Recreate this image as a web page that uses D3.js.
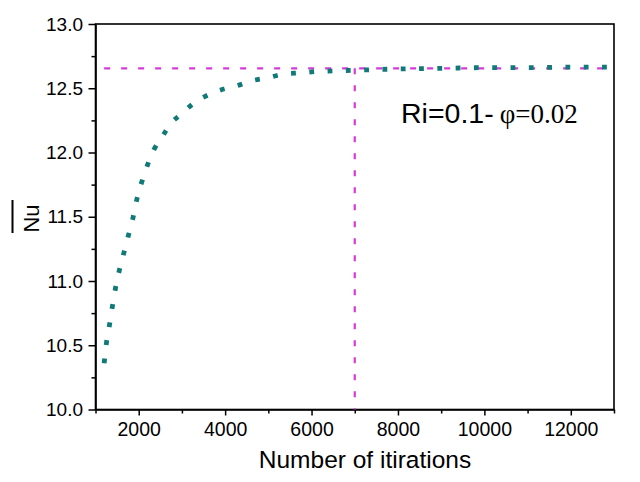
<!DOCTYPE html>
<html>
<head>
<meta charset="utf-8">
<script src="https://cdn.jsdelivr.net/npm/d3@7"></script>
<style>
  body { margin: 0; background: #fff; }
  text { font-family: "Liberation Sans", Arial, sans-serif; fill: #000; }
</style>
</head>
<body>
<div id="chart"></div>
<script>
// data
var iterations = [1200, 1250, 1320, 1390, 1460, 1550, 1650, 1750, 1860, 1960, 2080, 2200, 2350, 2540,
                  2730, 2990, 3260, 3620, 3930, 4280, 4640, 4970, 5350, 5740, 6110, 6500, 7000,
                  8000, 9000, 10000, 11000, 12000, 13000];
var nuValues   = [10.36, 10.51, 10.65, 10.80, 10.94, 11.08, 11.21, 11.34, 11.48, 11.64, 11.78, 11.90, 12.02, 12.12,
                  12.22, 12.30, 12.38, 12.45, 12.49, 12.52, 12.56, 12.58, 12.61, 12.62, 12.63, 12.635, 12.64,
                  12.65, 12.655, 12.66, 12.66, 12.665, 12.665];
var xMajorTicks = [2000, 4000, 6000, 8000, 10000, 12000];
var xMinorTicks = [1000, 3000, 5000, 7000, 9000, 11000, 13000];
var yMajorTicks = [10.0, 10.5, 11.0, 11.5, 12.0, 12.5, 13.0];
var yMinorTicks = [10.25, 10.75, 11.25, 11.75, 12.25, 12.75];
var refNu = 12.655;        // horizontal converged value
var refStart = 1200;       // where the horizontal guide starts
var refIter = 7000;        // vertical guide

var W = 640, H = 482;
var margin = {top: 24, right: 26, bottom: 72.5, left: 95.5},
    width = W - margin.left - margin.right,
    height = H - margin.top - margin.bottom;

var svg = d3.select("#chart")
  .append("svg")
    .attr("width", W)
    .attr("height", H)
  .append("g")
    .attr("transform", "translate(" + margin.left + "," + margin.top + ")");

var x = d3.scaleLinear().domain([1000, 13000]).range([0, width]);
var y = d3.scaleLinear().domain([10, 13]).range([height, 0]);

// minor ticks
svg.append("g")
  .attr("transform", "translate(0," + height + ")")
  .call(d3.axisBottom(x).tickValues(xMinorTicks).tickSize(4).tickSizeOuter(0).tickFormat(""))
  .call(function(g) { g.select(".domain").remove(); });
svg.append("g")
  .call(d3.axisLeft(y).tickValues(yMinorTicks).tickSize(4).tickSizeOuter(0).tickFormat(""))
  .call(function(g) { g.select(".domain").remove(); });

// major axes
var xAxis = svg.append("g")
  .attr("transform", "translate(0," + height + ")")
  .call(d3.axisBottom(x).tickValues(xMajorTicks).tickSize(6).tickPadding(7).tickSizeOuter(0).tickFormat(d3.format("d")));
xAxis.selectAll("text").attr("font-size", "19.5px");

var yAxis = svg.append("g")
  .call(d3.axisLeft(y).tickValues(yMajorTicks).tickSize(7).tickPadding(5.5).tickSizeOuter(0).tickFormat(d3.format(".1f")));
yAxis.selectAll("text").attr("font-size", "19px");

svg.selectAll(".tick line").attr("stroke", "#000").attr("stroke-width", 1.5);
svg.selectAll(".domain").attr("stroke", "#000").attr("stroke-width", 1.6);

// frame
svg.append("rect")
  .attr("x", 0).attr("y", 0)
  .attr("width", width).attr("height", height)
  .attr("fill", "none")
  .attr("stroke", "#000")
  .attr("stroke-width", 1.6);

// guide lines
svg.append("line")
  .attr("x1", x(refStart)).attr("x2", x(13000))
  .attr("y1", y(refNu)).attr("y2", y(refNu))
  .attr("stroke", "#d63ad8").attr("stroke-width", 2.2)
  .attr("stroke-dasharray", "6,11");

svg.append("line")
  .attr("x1", x(refIter)).attr("x2", x(refIter))
  .attr("y1", y(refNu)).attr("y2", y(10))
  .attr("stroke", "#d63ad8").attr("stroke-width", 2.2)
  .attr("stroke-dasharray", "6,11");

// the dotted curve
var line = d3.line()
  .x(function(d, i) { return x(iterations[i]); })
  .y(function(d) { return y(d); })
  .curve(d3.curveMonotoneX);

svg.append("path")
  .datum(nuValues)
  .attr("d", line)
  .attr("fill", "none")
  .attr("stroke", "#0f7a77")
  .attr("stroke-width", 4.8)
  .attr("stroke-dasharray", "4.8,13.5");

// annotation
var note = svg.append("text")
  .attr("x", 401 - margin.left)
  .attr("y", 123 - margin.top)
  .attr("font-size", "28.5px")
  .text("Ri=0.1-");
note.append("tspan")
  .attr("dx", 6)
  .attr("font-family", "'Liberation Serif', 'Times New Roman', serif")
  .attr("font-size", "27px")
  .text("φ=0.02");

// axis titles
svg.append("text")
  .attr("x", 365 - margin.left)
  .attr("y", 468 - margin.top)
  .attr("text-anchor", "middle")
  .attr("font-size", "24.5px")
  .text("Number of itirations");

svg.append("text")
  .attr("transform", "translate(" + (39 - margin.left) + "," + (218.5 - margin.top) + ") rotate(-90)")
  .attr("text-anchor", "middle")
  .attr("font-size", "22px")
  .text("Nu");

// bar over Nu
svg.append("line")
  .attr("x1", 12.5 - margin.left).attr("x2", 12.5 - margin.left)
  .attr("y1", 200 - margin.top).attr("y2", 233 - margin.top)
  .attr("stroke", "#000").attr("stroke-width", 2);
</script>
</body>
</html>
